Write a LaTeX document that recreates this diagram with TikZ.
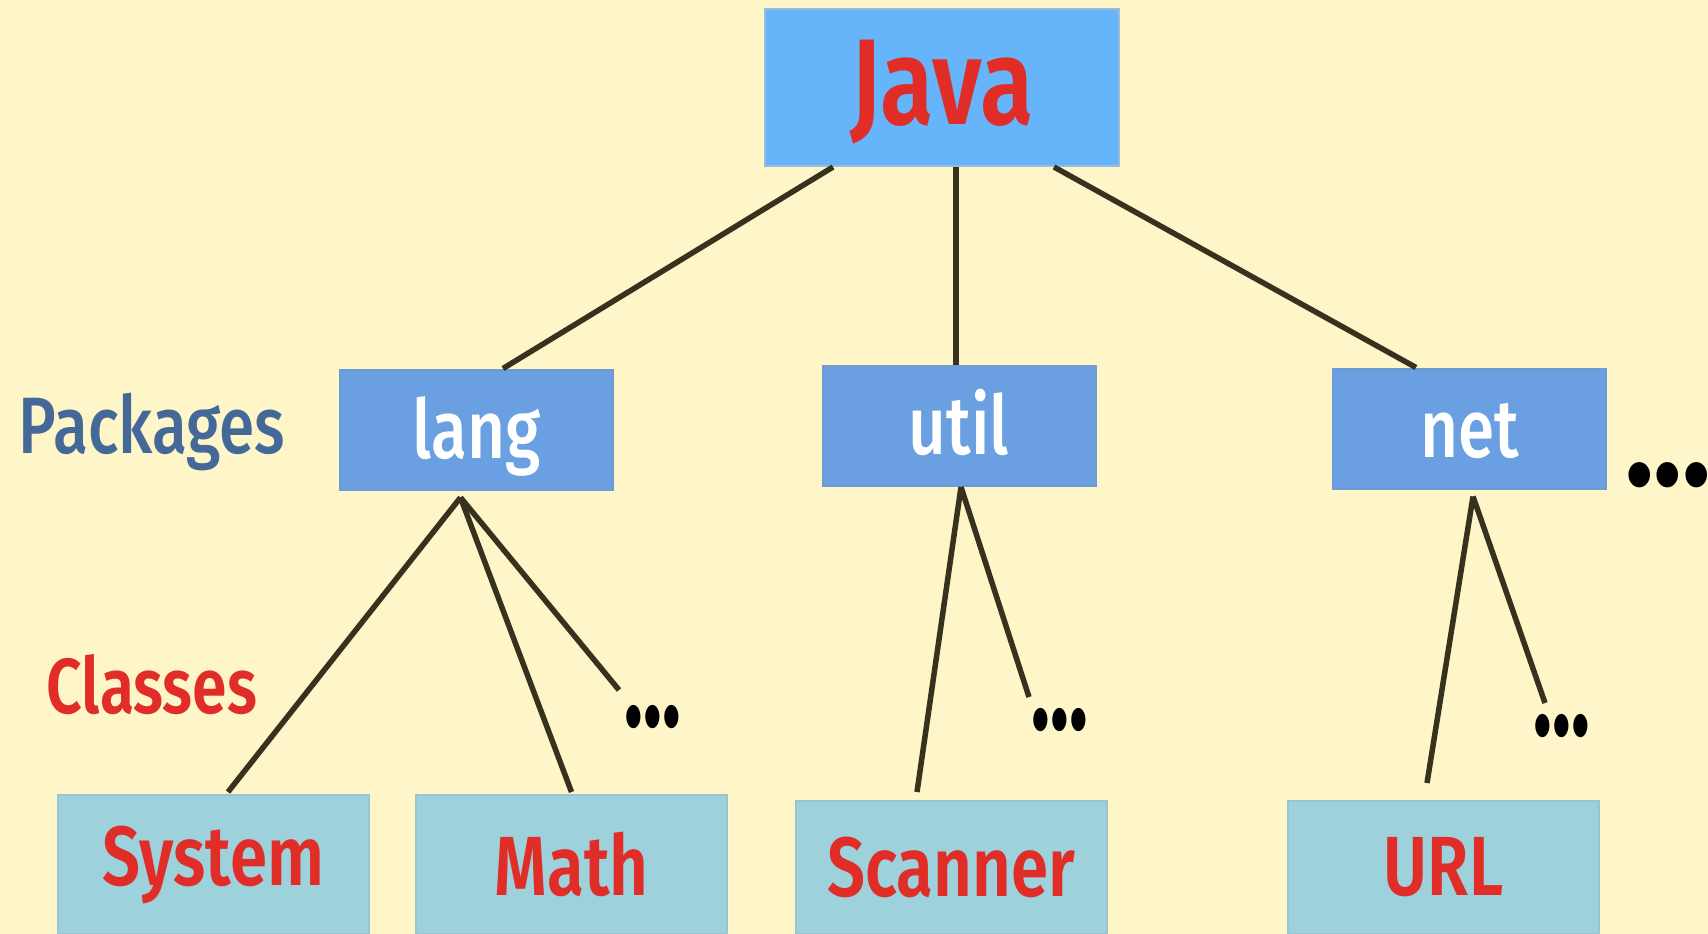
\documentclass[tikz,border=0pt]{standalone}
\usepackage{fontspec}
\newfontfamily\cfmed[FakeStretch=0.8]{Fira Sans}[UprightFont={* Medium}]
\newfontfamily\cfsemi[FakeStretch=0.8]{Fira Sans}[UprightFont={* SemiBold}]
\newfontfamily\cfbold[FakeStretch=0.85]{Fira Sans}[UprightFont={* Bold}]
\usetikzlibrary{calc}
\definecolor{bg}{RGB}{254,245,200}
\definecolor{javabox}{RGB}{102,180,250}
\definecolor{pkgbox}{RGB}{106,160,225}
\definecolor{clsbox}{RGB}{157,210,220}
\definecolor{txtred}{RGB}{225,45,40}
\definecolor{pkglabel}{RGB}{68,104,152}
\definecolor{linec}{RGB}{55,50,30}
\tikzset{
  box/.style={rectangle, inner sep=0pt, line width=2pt},
  javastyle/.style={box, fill=javabox, draw=javabox!80!black!60!white, minimum width=354pt, minimum height=157pt,
     font=\cfsemi\fontsize{122}{122}\selectfont, text=txtred, text height=73pt, text depth=0pt},
  pkgstyle/.style={box, fill=pkgbox, draw=pkgbox!85!gray, minimum width=273pt, minimum height=120pt,
     font=\cfmed\fontsize{82}{82}\selectfont, text=white, text height=57pt, text depth=0pt},
  clsstyle/.style={box, fill=clsbox, draw=clsbox!85!gray, minimum width=311pt,
     font=\cfsemi\fontsize{84}{84}\selectfont, text=txtred},
  sidelabel/.style={inner sep=0pt, anchor=base},
  dotsstyle/.style={inner sep=0pt, font=\cfbold\fontsize{92}{92}\selectfont, text=black},
  conn/.style={draw=linec, line width=5.5pt},
}
\begin{document}
\begin{tikzpicture}[x=1pt,y=-1pt]
\fill[bg] (0,0) rectangle (1708,934);
\useasboundingbox (0,0) rectangle (1708,934);

\node[javastyle] (java) at (942,87.5) {Java};

\node[pkgstyle] (lang) at (476.5,429.5) {lang};
\node[pkgstyle] (util) at (959,426) {util};
\node[pkgstyle] (net) at (1469.5,428.5) {net};

\node[clsstyle, minimum height=139pt] (system) at (213.5,864.5) {System};
\node[clsstyle, minimum height=139pt] (math) at (571.5,864.5) {Math};
\node[clsstyle, minimum height=133pt] (scanner) at (951,867.5) {Scanner};
\node[clsstyle, minimum height=133pt] (url) at (1443.5,867.5) {URL};

\node[sidelabel, font=\cfmed\fontsize{80}{80}\selectfont, text=pkglabel] (packages) at (152,453) {Packages};
\node[sidelabel, font=\cfsemi\fontsize{78}{78}\selectfont, text=txtred] (classes) at (152,713) {Classes};

\node[dotsstyle] (dotsA) at (653,717) {\scalebox{1}[1.4]{...}};
\node[dotsstyle] (dotsB) at (1060,720) {\scalebox{1}[1.4]{...}};
\node[dotsstyle] (dotsC) at (1562,726) {\scalebox{1}[1.4]{...}};
\node[dotsstyle, font=\cfbold\fontsize{140}{140}\selectfont] (dotsD) at (1668,475) {...};

% Java to packages
\draw[conn] ([xshift=-109pt]java.south) -- ([xshift=26.5pt]lang.north);
\draw[conn] ([xshift=14pt]java.south) -- ([xshift=-3pt]util.north);
\draw[conn] ([xshift=112pt]java.south) -- ([xshift=-53.5pt]net.north);

% hubs
\coordinate (langb) at ([xshift=-16pt,yshift=-7pt]lang.south);
\coordinate (utilb) at ([xshift=2pt]util.south);
\coordinate (netb) at ([xshift=3.5pt,yshift=-7pt]net.south);

\draw[conn] (langb) -- ([xshift=14.5pt,yshift=2pt]system.north);
\draw[conn] (langb) -- ([yshift=2pt]math.north);
\draw[conn] (langb) -- ([xshift=-34pt,yshift=27pt]dotsA.center);

\draw[conn] (utilb) -- ([xshift=-34pt,yshift=8pt]scanner.north);
\draw[conn] (utilb) -- ([xshift=-31pt,yshift=23pt]dotsB.center);

\draw[conn] (netb) -- ([xshift=-16.5pt,yshift=17pt]url.north);
\draw[conn] (netb) -- ([xshift=-17pt,yshift=23pt]dotsC.center);
\end{tikzpicture}
\end{document}
